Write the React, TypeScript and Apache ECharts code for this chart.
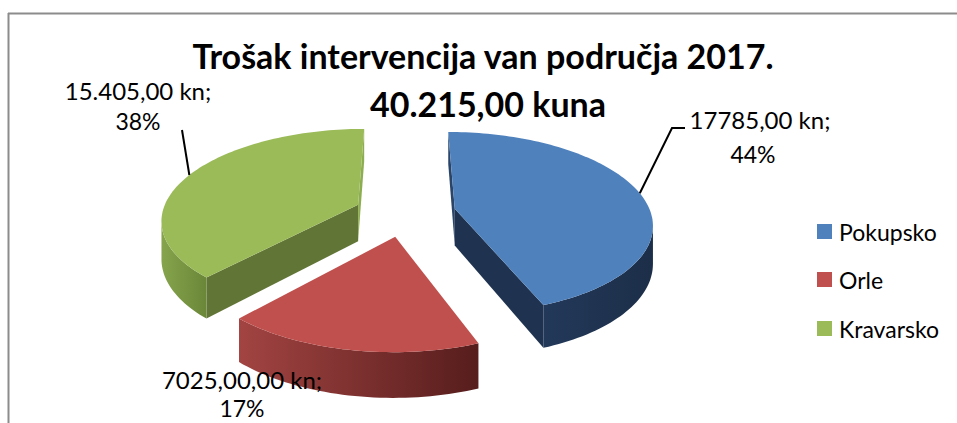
import React, { useEffect, useRef } from "react";
import * as echarts from "echarts";

const categories = ["Pokupsko", "Orle", "Kravarsko"];
const values = [17785, 7025, 15405];
const valueLabels = ["17785,00 kn;", "7025,00,00 kn;", "15.405,00 kn;"];
const titleLines = ["Trošak intervencija van područja 2017.", "40.215,00 kuna"];

const TOP = ["#4F81BD", "#C0504D", "#9BBB59"];
const CUT = ["#1F3350", "#7A2E2C", "#617536"];
const EDGE = ["#2B4569", "#8E3936", "#8DAE50"];
const WALL: [string, string][] = [
  ["#23395A", "#1C2E48"],
  ["#A24442", "#561D1C"],
  ["#86A44C", "#6A8739"],
];

const G = { cx: 405, cy: 213, rx: 196, ry: 89.7, p: 0.152, h: 37, explode: 0.26 };

const LABEL_POS: { l1: number[]; l2: number[]; leader: number[][] | null }[] = [
  { l1: [760, 119], l2: [753, 154], leader: [[672, 128], [685, 128]] },
  { l1: [242, 379], l2: [242, 408], leader: null },
  { l1: [138, 90], l2: [138, 121], leader: [[182, 130]] },
];

const FONT = "Lato, 'Open Sans', sans-serif";

function proj(X: number, Z: number, down: boolean): number[] {
  const w = 1 / (1 + Z * G.p);
  return [G.cx + X * G.rx * w, G.cy - Z * G.ry * w + (down ? G.h * w : 0)];
}

export default function App() {
  const ref = useRef<HTMLDivElement>(null);
  useEffect(() => {
    if (!ref.current) return;
    const chart = echarts.init(ref.current, undefined, { renderer: "svg" });
    const total = values.reduce((a, b) => a + b, 0);
    const starts: number[] = [];
    let acc = 0;
    values.forEach((v) => {
      starts.push((acc / total) * Math.PI * 2);
      acc += v;
    });
    const mids = values.map((v, i) => starts[i] + (v / total) * Math.PI);
    const order = values
      .map((_, i) => i)
      .sort((a, b) => Math.cos(mids[b]) - Math.cos(mids[a]));
    const rank: number[] = [];
    order.forEach((idx, r) => (rank[idx] = r));
    const camZ = -1 / G.p;

    const renderItem = (params: any, api: any) => {
      const i = params.dataIndex;
      const v = api.value(0);
      const a0 = starts[i];
      const a1 = a0 + (v / total) * Math.PI * 2;
      const mid = (a0 + a1) / 2;
      const ox = G.explode * Math.sin(mid);
      const oz = G.explode * Math.cos(mid);
      const rim = (t: number, d: boolean) => proj(ox + Math.sin(t), oz + Math.cos(t), d);
      const apexT = proj(ox, oz, false);
      const apexB = proj(ox, oz, true);
      const n = Math.max(4, Math.ceil((a1 - a0) / (Math.PI / 120)));
      const ts: number[] = [];
      for (let k = 0; k <= n; k++) ts.push(a0 + ((a1 - a0) * k) / n);
      const base = rank[i] * 10;
      const children: any[] = [];

      {
        const nx = -Math.cos(a0), nz = Math.sin(a0);
        if (nx * (0 - ox) + nz * (camZ - oz) > 0) {
          children.push({
            type: "polygon",
            z2: base + 1,
            shape: { points: [apexT, rim(a0, false), rim(a0, true), apexB] },
            style: { fill: Math.abs(Math.sin(a0)) < 0.05 ? EDGE[i] : CUT[i] },
          });
        }
      }
      {
        const nx = Math.cos(a1), nz = -Math.sin(a1);
        if (nx * (0 - ox) + nz * (camZ - oz) > 0) {
          children.push({
            type: "polygon",
            z2: base + 1,
            shape: { points: [apexT, rim(a1, false), rim(a1, true), apexB] },
            style: { fill: Math.abs(Math.sin(a1)) < 0.05 ? EDGE[i] : CUT[i] },
          });
        }
      }
      const vis = ts.filter((t) => {
        const px = ox + Math.sin(t), pz = oz + Math.cos(t);
        return Math.sin(t) * (0 - px) + Math.cos(t) * (camZ - pz) > 0;
      });
      if (vis.length > 1) {
        const pts = vis.map((t) => rim(t, false)).concat(vis.slice().reverse().map((t) => rim(t, true)));
        children.push({
          type: "polygon",
          z2: base + 2,
          shape: { points: pts },
          style: {
            fill: new echarts.graphic.LinearGradient(0, 0, 1, 0, [
              { offset: 0, color: WALL[i][0] },
              { offset: 1, color: WALL[i][1] },
            ]),
          },
        });
      }
      children.push({
        type: "polygon",
        z2: base + 3,
        shape: { points: [apexT].concat(ts.map((t) => rim(t, false))) },
        style: { fill: TOP[i] },
      });
      const lp = LABEL_POS[i];
      if (lp.leader) {
        children.push({
          type: "polyline",
          z2: 100,
          shape: { points: [rim(mid, false)].concat(lp.leader) },
          style: { stroke: "#000", lineWidth: 2, fill: "none" },
        });
      }
      const pct = Math.round((v / total) * 100) + "%";
      children.push({
        type: "text",
        z2: 101,
        x: lp.l1[0],
        y: lp.l1[1],
        style: { text: valueLabels[i], font: `24px ${FONT}`, fill: "#000", align: "center", verticalAlign: "middle" },
      });
      children.push({
        type: "text",
        z2: 101,
        x: lp.l2[0],
        y: lp.l2[1],
        style: { text: pct, font: `23px ${FONT}`, fill: "#000", align: "center", verticalAlign: "middle" },
      });
      return { type: "group", children };
    };

    const legendY = [231.5, 279.5, 328.5];
    const graphic: any[] = [
      { type: "line", shape: { x1: 8, y1: 13.5, x2: 957, y2: 13.5 }, style: { stroke: "#8C8C8C", lineWidth: 2 } },
      { type: "line", shape: { x1: 8.5, y1: 13, x2: 8.5, y2: 423 }, style: { stroke: "#8C8C8C", lineWidth: 2 } },
      {
        type: "text",
        x: 483,
        y: 55,
        style: { text: titleLines[0], font: `bold 34px ${FONT}`, fill: "#000", align: "center", verticalAlign: "middle" },
      },
      {
        type: "text",
        x: 488,
        y: 103,
        style: { text: titleLines[1], font: `bold 34px ${FONT}`, fill: "#000", align: "center", verticalAlign: "middle" },
      },
    ];
    categories.forEach((c, i) => {
      graphic.push({ type: "rect", shape: { x: 817, y: legendY[i] - 7.5, width: 15, height: 15 }, style: { fill: TOP[i] } });
      graphic.push({
        type: "text",
        x: 839,
        y: legendY[i],
        style: { text: c, font: `23px ${FONT}`, fill: "#000", align: "left", verticalAlign: "middle" },
      });
    });

    chart.setOption({
      animation: false,
      backgroundColor: "#fff",
      graphic,
      series: [
        {
          type: "custom",
          coordinateSystem: "none",
          silent: true,
          data: values.map((v, i) => ({ name: categories[i], value: [v] })),
          renderItem,
        },
      ],
    });
    return () => chart.dispose();
  }, []);
  return <div ref={ref} style={{ position: "fixed", left: 0, top: 0, width: 957, height: 423 }} />;
}
